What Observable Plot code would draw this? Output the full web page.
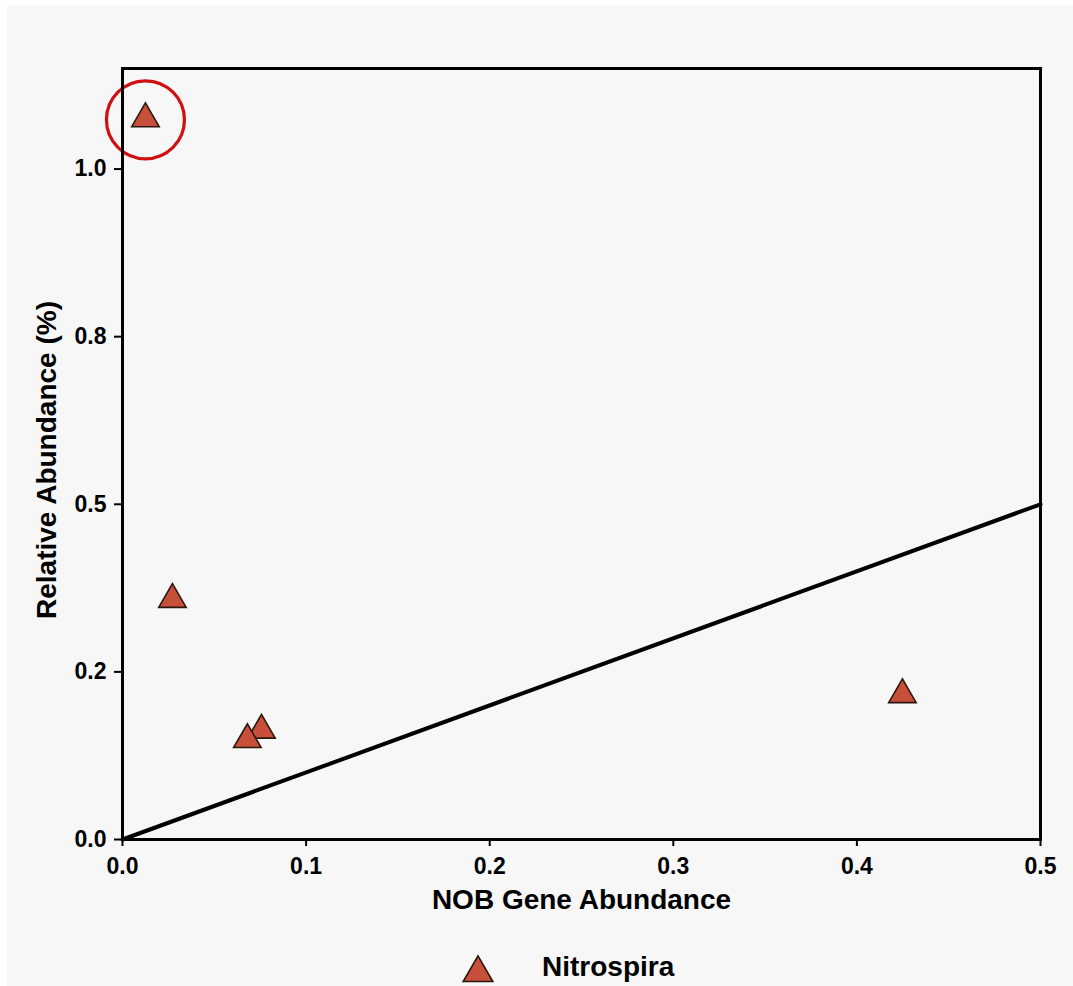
<!DOCTYPE html>
<html>
<head>
<meta charset="utf-8">
<script src="https://cdn.jsdelivr.net/npm/d3@7"></script>
<script src="https://cdn.jsdelivr.net/npm/@observablehq/plot@0.6"></script>
<style>
  html, body { margin: 0; padding: 0; background: #ffffff; }
  body { width: 1073px; height: 986px; overflow: hidden; font-family: "Liberation Sans", Arial, Helvetica, sans-serif; }
  #panel { position: absolute; left: 7px; top: 5px; width: 1066px; height: 981px; background: #f7f7f7; }
  #chart svg { display: block; }
  #chart svg text { font-weight: bold; }
  #legend { position: relative; width: 1066px; height: 51px; }
  #legend svg { position: absolute; left: 454px; top: 17px; }
  #legend span { position: absolute; left: 535px; top: 16px; font-size: 28px; font-weight: bold; color: #000; line-height: 32px; }
</style>
</head>
<body>
<div id="panel">
  <div id="chart"></div>
  <div id="legend"></div>
</div>
<script>
// ---- data ----
const seriesName = "Nitrospira";
const nobGeneAbundance = [0.0125, 0.0272, 0.0757, 0.068, 0.4248];
const relativeAbundance = [1.075, 0.358, 0.163, 0.149, 0.216];
const highlightedIndex = [0];
const refLineX = [0, 0.5];
const refLineY = [0, 0.5];
const xTicks = [0, 0.1, 0.2, 0.3, 0.4, 0.5];
const xTickLabels = ["0.0", "0.1", "0.2", "0.3", "0.4", "0.5"];
const yTicks = [0, 0.25, 0.5, 0.75, 1.0];
const yTickLabels = ["0.0", "0.2", "0.5", "0.8", "1.0"];
const xTitle = "NOB Gene Abundance";
const yTitle = "Relative Abundance (%)";

const points = nobGeneAbundance.map((x, i) => ({x, y: relativeAbundance[i]}));
const refLine = refLineX.map((x, i) => ({x, y: refLineY[i]}));
const highlighted = highlightedIndex.map(i => points[i]);

const fillColor = "#c8503a";
const strokeColor = "#2b1810";

const chart = Plot.plot({
  width: 1066,
  height: 930,
  marginLeft: 115,
  marginTop: 63,
  marginRight: 33,
  marginBottom: 96,
  style: {background: "transparent", fontFamily: "'Liberation Sans', Arial, Helvetica, sans-serif", fontWeight: "bold", color: "#000"},
  x: {domain: [0, 0.5]},
  y: {domain: [0, 1.15]},
  marks: [
    Plot.axisX({ticks: xTicks, tickFormat: (d, i) => xTickLabels[i], tickSize: 7, tickPadding: 11, fontSize: 23, fontWeight: "bold", strokeWidth: 2, stroke: "#000", label: null}),
    Plot.axisY({ticks: yTicks, tickFormat: (d, i) => yTickLabels[i], tickSize: 8, tickPadding: 8, fontSize: 23, fontWeight: "bold", strokeWidth: 2, stroke: "#000", label: null}),
    Plot.line(refLine, {x: "x", y: "y", stroke: "#000", strokeWidth: 4}),
    Plot.dot(points, {x: "x", y: "y", symbol: "triangle", r: 10.2, fill: fillColor, stroke: strokeColor, strokeWidth: 1.6}),
    Plot.dot(highlighted, {x: "x", y: "y", r: 39, fill: "none", stroke: "#d01010", strokeWidth: 3.2, dy: 1}),
    Plot.frame({stroke: "#000", strokeWidth: 3}),
    Plot.text([xTitle], {frameAnchor: "bottom", dy: 69, fontSize: 28, fontWeight: "bold", fill: "#000"}),
    Plot.text([yTitle], {frameAnchor: "left", textAnchor: "middle", dx: -75, dy: 6, rotate: -90, fontSize: 28, fontWeight: "bold", fill: "#000"})
  ]
});
document.getElementById("chart").appendChild(chart);

// legend (below the chart)
const legend = document.getElementById("legend");
const sym = d3.symbol(d3.symbolTriangle, Math.PI * 11 * 11)();
const lsvg = d3.create("svg").attr("width", 34).attr("height", 34);
lsvg.append("path").attr("d", sym).attr("transform", "translate(17,21)")
  .attr("fill", fillColor).attr("stroke", strokeColor).attr("stroke-width", 1.6);
legend.appendChild(lsvg.node());
const label = document.createElement("span");
label.textContent = seriesName;
legend.appendChild(label);
</script>
</body>
</html>
